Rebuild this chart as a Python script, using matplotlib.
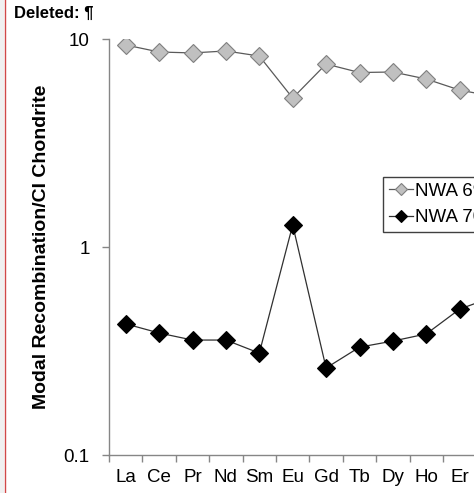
import matplotlib
matplotlib.use("Agg")
import matplotlib.pyplot as plt
from matplotlib.lines import Line2D
from matplotlib.patches import Rectangle
import numpy as np

plt.rcParams['font.family'] = ['Liberation Sans', 'DejaVu Sans']

elements = ["La", "Ce", "Pr", "Nd", "Sm", "Eu", "Gd", "Tb", "Dy", "Ho", "Er", "Tm"]
nwa6 = [9.36, 8.66, 8.57, 8.76, 8.28, 5.20, 7.58, 6.90, 6.94, 6.42, 5.68, 5.30]
nwa7 = [0.427, 0.386, 0.357, 0.357, 0.309, 1.276, 0.262, 0.330, 0.353, 0.382, 0.503, 0.575]
label6 = "NWA 6963"
label7 = "NWA 7034"

W, H = 474, 493
fig = plt.figure(figsize=(W / 100, H / 100), dpi=100)

# axes extends past the right edge (reference is cropped)
ax = fig.add_axes([109 / W, (H - 455) / H, 12 * 33.4 / W, (455 - 39) / H])

x = np.arange(len(elements))
ax.plot(x, nwa6, color="#5a5a5a", lw=0.9, marker="D", ms=9.5,
        mfc="#c0c0c0", mec="#7f7f7f", mew=0.8, label=label6, zorder=3)
ax.plot(x, nwa7, color="#303030", lw=0.9, marker="D", ms=9.5,
        mfc="black", mec="black", mew=0.8, label=label7, zorder=3)

ax.set_yscale("log")
ax.set_ylim(0.1, 10)
ax.set_xlim(-0.5, len(elements) - 0.5)

ax.set_yticks([0.1, 1, 10])
ax.set_yticklabels(["0.1", "1", "10"])
ax.yaxis.set_minor_locator(matplotlib.ticker.NullLocator())

ax.set_xticks(x)
ax.set_xticklabels(elements)
ax.set_xticks(np.arange(len(elements) + 1) - 0.5, minor=True)
ax.tick_params(axis="x", which="major", length=0, pad=10, labelsize=13.5)
ax.tick_params(axis="x", which="minor", length=5, color="#868686", width=1, direction="out")
ax.tick_params(axis="y", which="major", length=5, color="#868686", width=1, pad=9, labelsize=13.5)

for s in ["top", "right"]:
    ax.spines[s].set_visible(False)
for s in ["left", "bottom"]:
    ax.spines[s].set_color("#868686")
    ax.spines[s].set_linewidth(1)

fig.text(42 / W, 1 - 247 / H, "Modal Recombination/CI Chondrite", rotation=90,
         fontsize=14, fontweight="bold", ha="center", va="center")

leg = ax.legend(loc="upper left", bbox_to_anchor=(383 / W, 1 - 177 / H),
                bbox_transform=fig.transFigure, fontsize=13.5, markerscale=0.6,
                handlelength=1.3, handletextpad=0.1, borderpad=0.3,
                labelspacing=0.5, fancybox=False, framealpha=1, borderaxespad=0)
leg.get_frame().set_edgecolor("#404040")
leg.get_frame().set_linewidth(1)

fig.text(14 / W, 1 - 13 / H, "Deleted: \u00b6", fontsize=12, fontweight="bold",
         ha="left", va="center")

# track-changes margin
fig.add_artist(Rectangle((0, 0), 4 / W, 1, transform=fig.transFigure,
                         color="#f0f0f0", lw=0))
fig.add_artist(Line2D([5 / W, 5 / W], [0, 1], transform=fig.transFigure,
                      color="#d04848", lw=1))

fig.savefig("out.png", dpi=100)
